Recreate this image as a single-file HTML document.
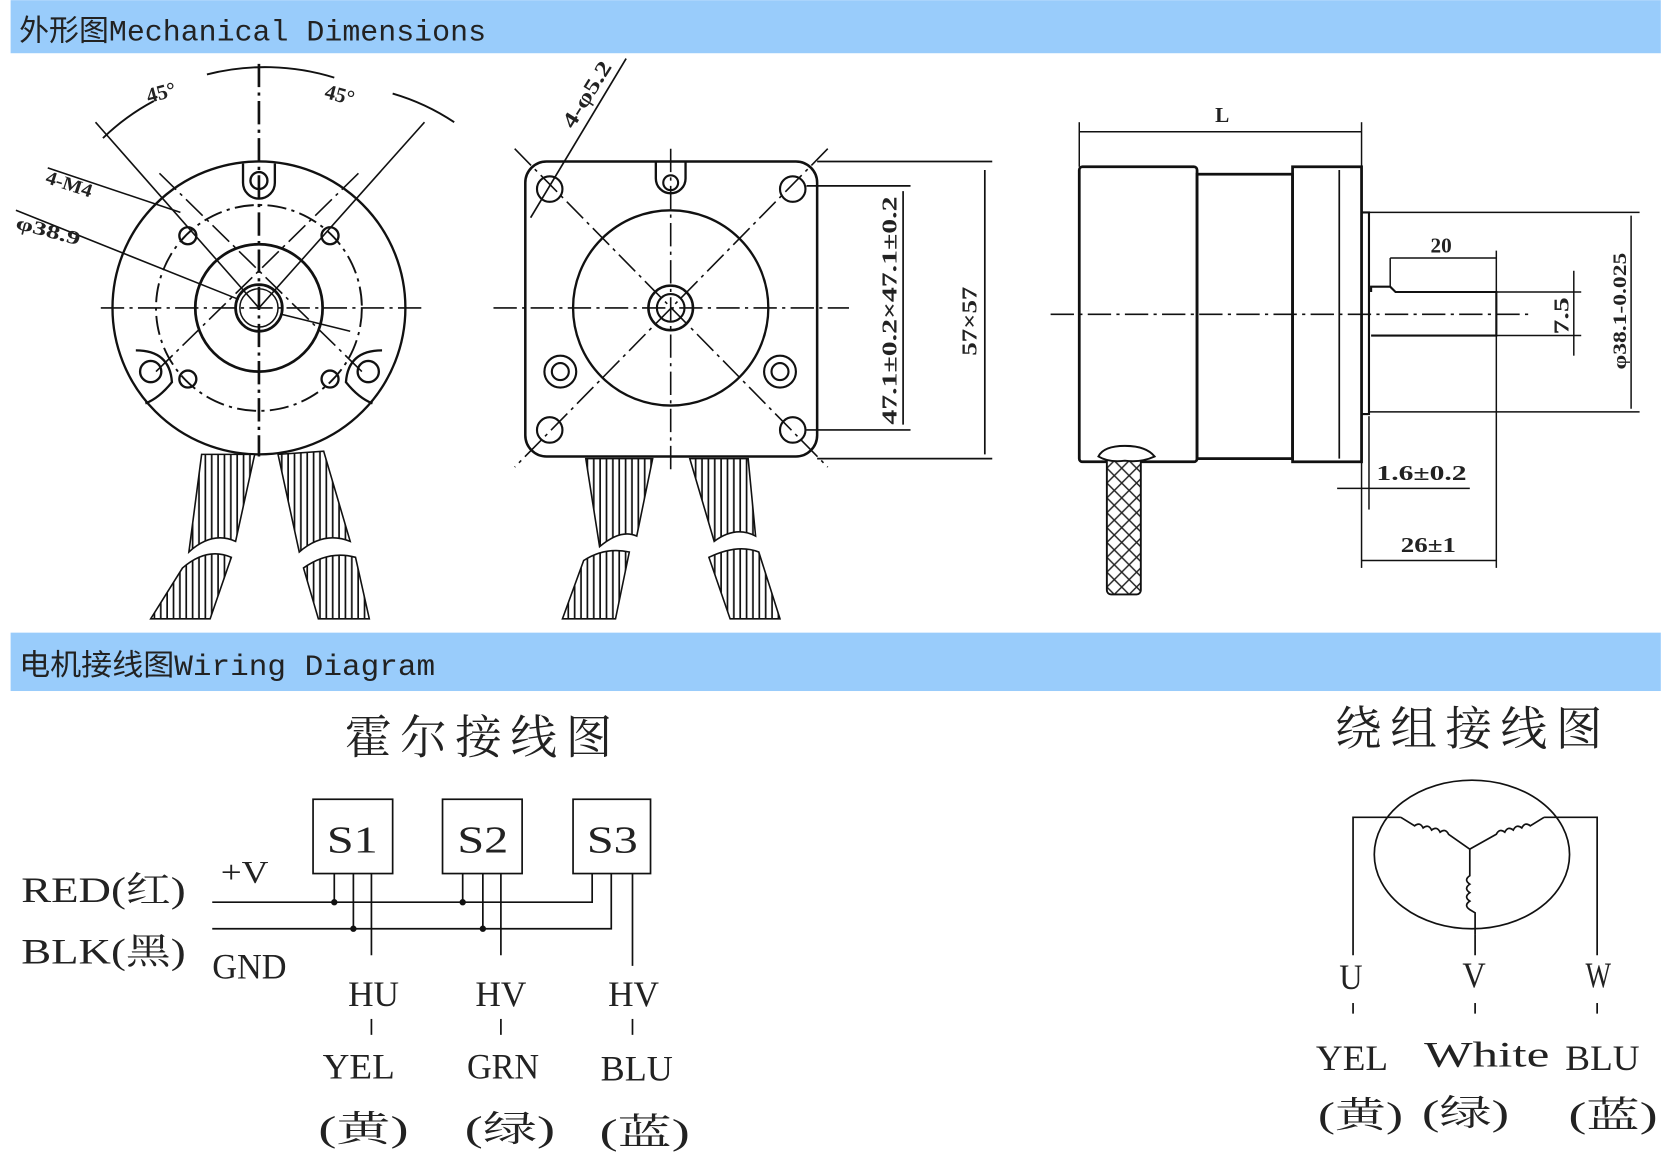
<!DOCTYPE html>
<html><head><meta charset="utf-8"><style>
html,body{margin:0;padding:0;background:#fff;}
svg{display:block}
.t{font-family:"Liberation Serif","Noto Serif CJK SC","Noto Sans CJK SC",serif;fill:#222}
.m{font-family:"Liberation Mono","Noto Sans CJK SC",monospace;fill:#222}
</style></head><body>
<svg width="1664" height="1156" viewBox="0 0 1568 1089" xmlns="http://www.w3.org/2000/svg">
<defs>
<pattern id="hatch" width="6" height="10" patternUnits="userSpaceOnUse"><rect width="6" height="10" fill="#fff"/><line x1="1.5" y1="0" x2="1.5" y2="10" stroke="#111" stroke-width="1.6"/></pattern>
<pattern id="xh" width="14" height="14" patternUnits="userSpaceOnUse"><rect width="14" height="14" fill="#fff"/><path d="M0 0L14 14M14 0L0 14" stroke="#222" stroke-width="1.4"/></pattern>
</defs>
<rect x="10" y="0" width="1555" height="50" fill="#99ccfb"/>
<text x="18" y="38" class="m" font-size="28" textLength="440" lengthAdjust="spacingAndGlyphs">外形图Mechanical Dimensions</text>
<rect x="10" y="596" width="1555" height="55" fill="#99ccfb"/>
<text x="18" y="636" class="m" font-size="28" textLength="392" lengthAdjust="spacingAndGlyphs">电机接线图Wiring Diagram</text>

<g fill="none" stroke="#111" stroke-width="2">
<g stroke-width="2.2">
<circle cx="244" cy="290" r="138"/>
<circle cx="244" cy="290" r="60" stroke-width="2.6"/>
<circle cx="244" cy="290" r="22" stroke-width="2.6"/>
<circle cx="244" cy="290" r="18" stroke-width="1.4"/>
<circle cx="244" cy="290" r="97" stroke-dasharray="18 5 3 5" stroke-width="1.8"/>
<path d="M229 154 L229 172 A15 15 0 0 0 259 172 L259 154"/>
<circle cx="244" cy="170" r="8"/>
<circle cx="177" cy="222" r="8"/><circle cx="311" cy="222" r="8"/>
<circle cx="177" cy="357" r="8"/><circle cx="311" cy="357" r="8"/>
<path d="M128 330 Q160 330 162 360 Q150 375 137 380"/><circle cx="142" cy="350" r="10"/>
<path d="M360 330 Q328 330 326 360 Q338 375 351 380"/><circle cx="347" cy="350" r="10"/>
</g>
<g stroke-width="1.5" stroke-dasharray="22 5 3 5">
<line x1="95" y1="290" x2="400" y2="290"/>
<line x1="244" y1="60" x2="244" y2="430" stroke-width="2.5"/>
<line x1="147" y1="350" x2="341" y2="160"/>
<line x1="341" y1="350" x2="147" y2="160"/>
</g>
<line x1="90" y1="115" x2="244" y2="290" stroke-width="1.5"/>
<line x1="400" y1="115" x2="244" y2="290" stroke-width="1.5"/>
<path d="M97 130 A210 210 0 0 1 145 95" stroke-width="1.8"/>
<path d="M195 70 A220 220 0 0 1 315 73" stroke-width="1.8"/>
<path d="M370 88 A210 210 0 0 1 428 115" stroke-width="1.8"/>
<line x1="45" y1="158" x2="170" y2="200" stroke-width="1.5"/>
<line x1="15" y1="198" x2="225" y2="282" stroke-width="1.5"/>
<line x1="265" y1="296" x2="330" y2="312" stroke-width="1.5"/>
<g stroke-width="1.5" fill="url(#hatch)">
<path d="M190 428 L240 428 L222 510 Q200 500 178 520 Z"/>
<path d="M172 535 Q195 515 218 525 L198 583 L142 583 Z"/>
<path d="M262 428 L305 425 L330 510 Q305 500 282 520 Z"/>
<path d="M286 535 Q310 518 335 525 L348 583 L300 583 Z"/>
</g>

<rect x="495" y="152" width="275" height="278" rx="20" stroke-width="2.4"/>
<circle cx="632" cy="290" r="92" stroke-width="2.2"/>
<circle cx="632" cy="290" r="21" stroke-width="2.4"/><circle cx="632" cy="290" r="13"/>
<path d="M618 153 L618 168 A14 14 0 0 0 646 168 L646 153" stroke-width="2.2"/><circle cx="632" cy="172" r="7"/>
<circle cx="518" cy="178" r="12"/><circle cx="747" cy="178" r="12"/>
<circle cx="518" cy="405" r="12"/><circle cx="747" cy="405" r="12"/>
<circle cx="528" cy="350" r="15"/><circle cx="528" cy="350" r="8"/>
<circle cx="735" cy="350" r="15"/><circle cx="735" cy="350" r="8"/>
<g stroke-width="1.5" stroke-dasharray="22 5 3 5">
<line x1="465" y1="290" x2="800" y2="290"/>
<line x1="632" y1="140" x2="632" y2="445"/>
<line x1="485" y1="140" x2="780" y2="440"/>
<line x1="780" y1="140" x2="485" y2="440"/>
</g>
<line x1="500" y1="205" x2="590" y2="55" stroke-width="1.6"/>
<g stroke-width="1.6">
<line x1="770" y1="152" x2="935" y2="152"/><line x1="770" y1="432" x2="935" y2="432"/>
<line x1="928" y1="160" x2="928" y2="428"/>
<line x1="760" y1="175" x2="858" y2="175"/><line x1="760" y1="405" x2="858" y2="405"/>
<line x1="851" y1="180" x2="851" y2="400"/>
</g>
<g stroke-width="1.5" fill="url(#hatch)">
<path d="M552 432 L615 432 L600 505 Q585 498 565 515 Z"/>
<path d="M550 528 Q570 515 593 520 L580 583 L530 583 Z"/>
<path d="M650 432 L705 432 L712 505 Q693 495 673 510 Z"/>
<path d="M668 525 Q695 512 715 520 L735 583 L688 583 Z"/>
</g>

<g stroke-width="2.6">
<rect x="1017" y="157" width="111" height="278" rx="3"/>
<rect x="1128" y="164" width="90" height="268"/>
<rect x="1218" y="157" width="65" height="278"/>
</g>
<line x1="1262" y1="160" x2="1262" y2="432" stroke-width="1.6"/>
<path d="M1283 200 L1290 200 L1290 390 L1283 390" stroke-width="2"/>
<path d="M1292 275 L1292 270 L1310 270 L1315 275 L1410 275 L1410 316 L1292 316" stroke-width="2"/>
<line x1="990" y1="296" x2="1440" y2="296" stroke-width="1.5" stroke-dasharray="22 5 3 5"/>
<g stroke-width="1.4">
<line x1="1017" y1="115" x2="1017" y2="157"/><line x1="1283" y1="115" x2="1283" y2="157"/>
<line x1="1017" y1="124" x2="1283" y2="124"/>
<line x1="1290" y1="200" x2="1545" y2="200"/><line x1="1290" y1="388" x2="1545" y2="388"/>
<line x1="1537" y1="203" x2="1537" y2="385"/>
<line x1="1410" y1="275" x2="1490" y2="275"/><line x1="1410" y1="316" x2="1490" y2="316"/>
<line x1="1483" y1="255" x2="1483" y2="335"/>
<line x1="1310" y1="243" x2="1410" y2="243"/><line x1="1310" y1="243" x2="1310" y2="270"/>
<line x1="1410" y1="236" x2="1410" y2="535"/><line x1="1283" y1="435" x2="1283" y2="535"/>
<line x1="1283" y1="528" x2="1410" y2="528"/>
<line x1="1260" y1="460" x2="1385" y2="460"/><line x1="1290" y1="392" x2="1290" y2="480"/>
</g>
<rect x="1043" y="425" width="32" height="135" rx="4" fill="url(#xh)" stroke-width="1.8"/>
<path d="M1035 430 Q1040 420 1060 420 Q1080 420 1088 430 Q1075 436 1060 434 Q1045 436 1035 430Z" fill="#fff" stroke-width="1.8"/>

<g stroke-width="1.6">
<rect x="295" y="753" width="75" height="70"/>
<rect x="417" y="753" width="75" height="70"/>
<rect x="540" y="753" width="73" height="70"/>
<path d="M200 850 L558 850 L558 823"/>
<path d="M200 875 L576 875 L576 823"/>
<line x1="315" y1="823" x2="315" y2="850"/><line x1="333" y1="823" x2="333" y2="875"/><line x1="350" y1="823" x2="350" y2="900"/>
<line x1="436" y1="823" x2="436" y2="850"/><line x1="455" y1="823" x2="455" y2="875"/><line x1="472" y1="823" x2="472" y2="900"/>
<line x1="596" y1="823" x2="596" y2="910"/>
<line x1="350" y1="960" x2="350" y2="975"/><line x1="472" y1="960" x2="472" y2="975"/><line x1="596" y1="960" x2="596" y2="975"/>
</g>
<g fill="#111" stroke="none">
<circle cx="315" cy="850" r="3"/><circle cx="333" cy="875" r="3"/>
<circle cx="436" cy="850" r="3"/><circle cx="455" cy="875" r="3"/>
</g>

<g stroke-width="1.6">
<ellipse cx="1387" cy="805" rx="92" ry="70"/>
<path d="M1275 900 L1275 770 L1320 770"/>
<path d="M1505 900 L1505 770 L1455 770"/>
<line x1="1390" y1="880" x2="1390" y2="900"/>
<line x1="1275" y1="945" x2="1275" y2="955"/><line x1="1390" y1="945" x2="1390" y2="955"/><line x1="1505" y1="945" x2="1505" y2="955"/>
<path d="M1320 770 L1333 778 q5 -4 8 2 q5 -4 8 2 q5 -4 8 2 q5 -4 8 2 L1385 800"/>
<path d="M1455 770 L1442 778 q-5 -4 -8 2 q-5 -4 -8 2 q-5 -4 -8 2 q-5 -4 -8 2 L1385 800"/>
<path d="M1385 800 L1385 825 q-6 4 0 8 q-6 4 0 8 q-6 4 0 8 q-6 4 0 8 L1390 860 L1390 880"/>
</g>
</g>

<g class="t" font-weight="bold">
<text x="140" y="97" font-size="20" transform="rotate(-15 140 97)">45°</text>
<text x="305" y="92" font-size="20" transform="rotate(15 305 92)">45°</text>
<text x="42" y="172" font-size="18" transform="rotate(18 42 172)" textLength="45" lengthAdjust="spacingAndGlyphs">4-M4</text>
<text x="14" y="215" font-size="18" transform="rotate(15 14 215)" textLength="62" lengthAdjust="spacingAndGlyphs">φ38.9</text>
<text x="540" y="122" font-size="20" transform="rotate(-58 540 122)" textLength="70" lengthAdjust="spacingAndGlyphs">4-φ5.2</text>
<text x="845" y="400" font-size="20" transform="rotate(-90 845 400)" textLength="215" lengthAdjust="spacingAndGlyphs">47.1±0.2×47.1±0.2</text>
<text x="920" y="335" font-size="20" transform="rotate(-90 920 335)" textLength="65" lengthAdjust="spacingAndGlyphs">57×57</text>
<text x="1145" y="115" font-size="20">L</text>
<text x="1348" y="238" font-size="20">20</text>
<text x="1478" y="315" font-size="20" transform="rotate(-90 1478 315)" textLength="35" lengthAdjust="spacingAndGlyphs">7.5</text>
<text x="1532" y="348" font-size="18" transform="rotate(-90 1532 348)" textLength="110" lengthAdjust="spacingAndGlyphs">φ38.1-0.025</text>
<text x="1297" y="452" font-size="20" textLength="85" lengthAdjust="spacingAndGlyphs">1.6±0.2</text>
<text x="1320" y="520" font-size="20" textLength="52" lengthAdjust="spacingAndGlyphs">26±1</text>
</g>
<g class="t">
<text x="325" y="710" font-size="44" letter-spacing="8">霍尔接线图</text>
<text x="1258" y="702" font-size="44" letter-spacing="8">绕组接线图</text>
<text x="308" y="803" font-size="36" textLength="48" lengthAdjust="spacingAndGlyphs">S1</text>
<text x="431" y="803" font-size="36" textLength="48" lengthAdjust="spacingAndGlyphs">S2</text>
<text x="553" y="803" font-size="36" textLength="48" lengthAdjust="spacingAndGlyphs">S3</text>
<text x="20" y="850" font-size="34" textLength="155" lengthAdjust="spacingAndGlyphs">RED(红)</text>
<text x="20" y="908" font-size="34" textLength="155" lengthAdjust="spacingAndGlyphs">BLK(黑)</text>
<text x="208" y="832" font-size="30" textLength="45" lengthAdjust="spacingAndGlyphs">+V</text>
<text x="200" y="922" font-size="34" textLength="70" lengthAdjust="spacingAndGlyphs">GND</text>
<text x="328" y="948" font-size="34" textLength="48" lengthAdjust="spacingAndGlyphs">HU</text>
<text x="448" y="948" font-size="34" textLength="48" lengthAdjust="spacingAndGlyphs">HV</text>
<text x="573" y="948" font-size="34" textLength="48" lengthAdjust="spacingAndGlyphs">HV</text>
<text x="304" y="1016" font-size="34" textLength="68" lengthAdjust="spacingAndGlyphs">YEL</text>
<text x="440" y="1016" font-size="34" textLength="68" lengthAdjust="spacingAndGlyphs">GRN</text>
<text x="566" y="1018" font-size="34" textLength="68" lengthAdjust="spacingAndGlyphs">BLU</text>
<text x="300" y="1075" font-size="34" textLength="85" lengthAdjust="spacingAndGlyphs">(黄)</text>
<text x="438" y="1075" font-size="34" textLength="85" lengthAdjust="spacingAndGlyphs">(绿)</text>
<text x="565" y="1078" font-size="34" textLength="85" lengthAdjust="spacingAndGlyphs">(蓝)</text>
<text x="1262" y="932" font-size="34" textLength="22" lengthAdjust="spacingAndGlyphs">U</text>
<text x="1378" y="930" font-size="34" textLength="22" lengthAdjust="spacingAndGlyphs">V</text>
<text x="1494" y="930" font-size="34" textLength="24" lengthAdjust="spacingAndGlyphs">W</text>
<text x="1240" y="1008" font-size="34" textLength="68" lengthAdjust="spacingAndGlyphs">YEL</text>
<text x="1342" y="1005" font-size="34" textLength="118" lengthAdjust="spacingAndGlyphs">White</text>
<text x="1475" y="1008" font-size="34" textLength="70" lengthAdjust="spacingAndGlyphs">BLU</text>
<text x="1242" y="1062" font-size="34" textLength="80" lengthAdjust="spacingAndGlyphs">(黄)</text>
<text x="1340" y="1060" font-size="34" textLength="82" lengthAdjust="spacingAndGlyphs">(绿)</text>
<text x="1478" y="1062" font-size="34" textLength="84" lengthAdjust="spacingAndGlyphs">(蓝)</text>
</g>
</svg>
</body></html>
